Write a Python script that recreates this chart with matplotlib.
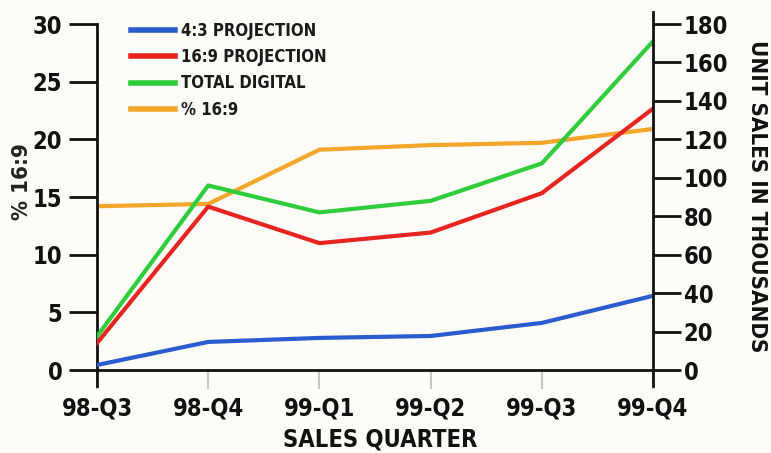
import matplotlib.pyplot as plt

# quarters on the x axis
quarters = ["98-Q3", "98-Q4", "99-Q1", "99-Q2", "99-Q3", "99-Q4"]

# unit sales in thousands (right axis)
proj_43 = [2.6, 14.6, 16.7, 17.7, 24.5, 38.6]
proj_169 = [14, 85, 66, 71.5, 92, 136]
total_digital = [17.5, 96, 82, 88, 107.5, 171]

# percent 16:9 (left axis)
pct_169 = [14.2, 14.4, 19.1, 19.5, 19.7, 20.9]

plt.rcParams["font.family"] = ["DejaVu Sans"]
plt.rcParams["font.stretch"] = "condensed"
plt.rcParams["font.weight"] = "bold"

BLUE = "#2a5cd0"
RED = "#e82420"
GREEN = "#2fcc3c"
ORANGE = "#f4a62a"
INK = "#111111"

fig = plt.figure(figsize=(7.71, 4.53), dpi=100, facecolor="#fdfcf6")
ax = fig.add_axes([0.1258, 0.1832, 0.7212, 0.7638])
ax.set_facecolor("none")
ax2 = ax.twinx()

x = list(range(len(quarters)))
ax.plot(x, pct_169, color=ORANGE, lw=3, zorder=2)
l1, = ax2.plot(x, proj_43, color=BLUE, lw=3)
l2, = ax2.plot(x, proj_169, color=RED, lw=3)
l3, = ax2.plot(x, total_digital, color=GREEN, lw=3)
l4, = ax2.plot([], [], color=ORANGE, lw=3)

ax.set_xlim(0, 5)
ax.set_ylim(0, 30)
ax2.set_ylim(0, 180)
ax.set_yticks(range(0, 31, 5))
ax2.set_yticks(range(0, 181, 20))
ax.set_xticks(x)
ax.set_xticklabels(quarters)

ax.spines[["top", "right"]].set_visible(False)
ax2.spines[["top", "left", "bottom"]].set_visible(False)
ax.spines["left"].set_bounds(-1.35, 30)
ax2.spines["right"].set_bounds(-8.2, 186)
for sp in (ax.spines["left"], ax.spines["bottom"], ax2.spines["right"]):
    sp.set_linewidth(2)
    sp.set_color(INK)

ax.tick_params(axis="y", length=20, width=2, direction="out", labelsize=17, pad=5, colors=INK)
ax2.tick_params(axis="y", length=20, width=2, direction="out", labelsize=17, pad=2, colors=INK)
ax.tick_params(axis="x", length=14, width=1.5, color="#c8c8c0", labelsize=17, pad=5, labelcolor=INK)

fig.text(0.493, 0.029, "SALES QUARTER", fontsize=17, fontweight="bold",
         ha="center", va="center", color=INK)
fig.text(0.028, 0.60, "% 16:9", fontsize=16, fontweight="bold", rotation=90,
         ha="center", va="center", color="#222222")
fig.text(0.982, 0.567, "UNIT SALES IN THOUSANDS", fontsize=16, fontweight="bold",
         rotation=-90, ha="center", va="center", color=INK)

leg = ax2.legend([l1, l2, l3, l4],
                 ["4:3 PROJECTION", "16:9 PROJECTION", "TOTAL DIGITAL", "% 16:9"],
                 loc="upper left", bbox_to_anchor=(0.035, 1.05), frameon=False,
                 prop={"size": 12, "weight": "bold", "stretch": "condensed"},
                 handlelength=2.6, handletextpad=0.35, labelspacing=0.5)
for t in leg.get_texts():
    t.set_color("#1a1a1a")
for h in leg.get_lines():
    h.set_linewidth(4)

fig.savefig("out.png", dpi=100, facecolor=fig.get_facecolor())
